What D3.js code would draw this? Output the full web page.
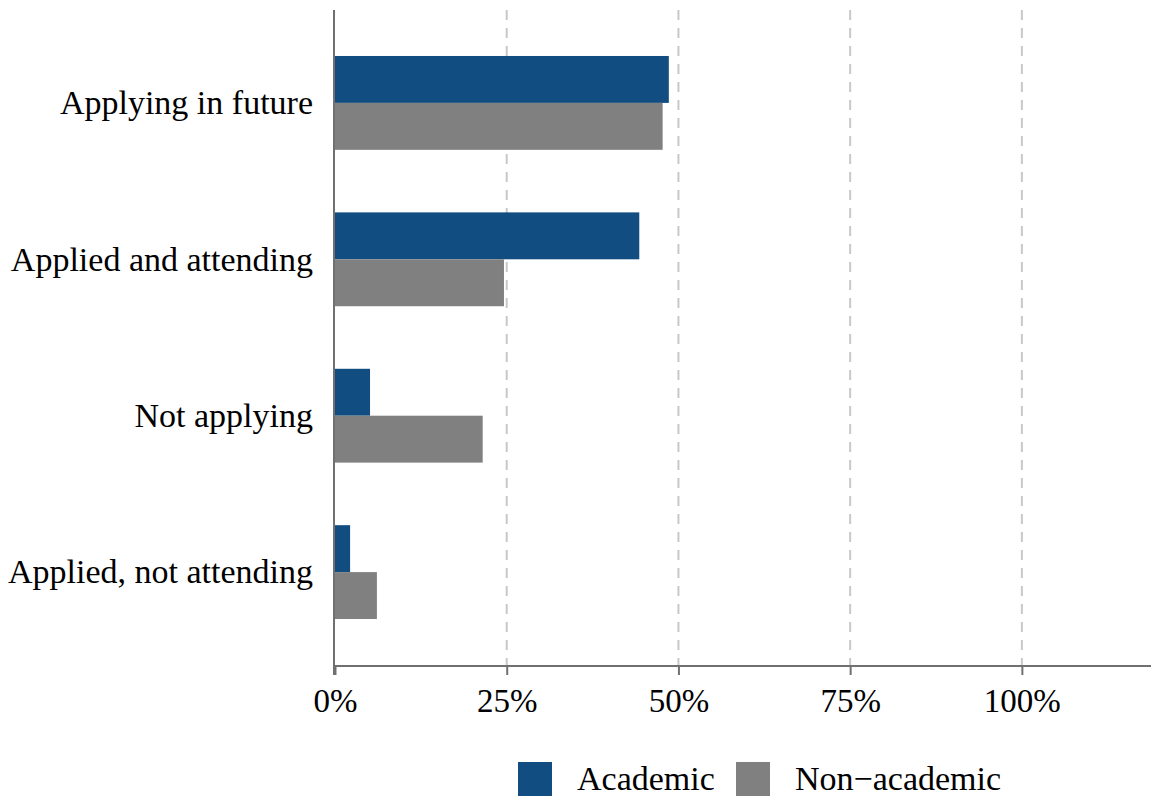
<!DOCTYPE html>
<html>
<head>
<meta charset="utf-8">
<script src="https://cdn.jsdelivr.net/npm/d3@7"></script>
<style>
  html, body { margin: 0; padding: 0; background: #fff; }
  svg { display: block; }
</style>
</head>
<body>
<script>
// data
var categories = ["Applying in future", "Applied and attending", "Not applying", "Applied, not attending"];
var seriesNames = ["Academic", "Non\u2212academic"];
var academic = [48.6, 44.3, 5.1, 2.2];
var nonAcademic = [47.7, 24.6, 21.5, 6.1];
var tickValues = [0, 25, 50, 75, 100];
var tickLabels = ["0%", "25%", "50%", "75%", "100%"];

var width = 1151, height = 797;
var colours = ["#114d80", "#808080"];
var font = "'Liberation Serif', 'Times New Roman', serif";

var svg = d3.select("body").append("svg")
  .attr("width", width).attr("height", height)
  .attr("viewBox", "0,0," + width + "," + height);

var x = d3.scaleLinear().domain([0, 118.8]).range([335, 1151]);
var y = d3.scaleBand().domain(categories).range([10, 665])
  .paddingInner(0.4).paddingOuter(0.294);
var ySub = d3.scaleBand().domain(seriesNames).range([0, y.bandwidth()]);

// gridlines
svg.selectAll("line.grid").data(tickValues.filter(d => d > 0)).enter().append("line")
  .attr("class", "grid")
  .attr("x1", d => x(d)).attr("x2", d => x(d))
  .attr("y1", 10).attr("y2", 665)
  .attr("stroke", "#c8c8c8")
  .attr("stroke-width", 2)
  .attr("stroke-dasharray", "10,8");

// bars
var rows = categories.map((c, i) => ({cat: c, vals: [academic[i], nonAcademic[i]]}));
var groups = svg.selectAll("g.row").data(rows).enter().append("g")
  .attr("class", "row")
  .attr("transform", d => "translate(0," + y(d.cat) + ")");
groups.selectAll("rect").data(d => d.vals.map((v, j) => ({v: v, s: seriesNames[j], j: j})))
  .enter().append("rect")
  .attr("x", x(0))
  .attr("y", d => ySub(d.s))
  .attr("width", d => x(d.v) - x(0))
  .attr("height", ySub.bandwidth())
  .attr("fill", d => colours[d.j]);

// x axis
var xAxis = svg.append("g")
  .attr("transform", "translate(0,666)")
  .call(d3.axisBottom(x).tickValues(tickValues).tickFormat((d, i) => tickLabels[i]).tickSize(9).tickPadding(14));
xAxis.select(".domain").remove();
xAxis.selectAll(".tick line").attr("stroke", "#707070").attr("stroke-width", 2);
xAxis.selectAll(".tick text")
  .attr("font-family", font).attr("font-size", "33px").attr("fill", "#000");
xAxis.append("line")
  .attr("x1", x(0) - 1).attr("x2", width)
  .attr("y1", 0).attr("y2", 0)
  .attr("stroke", "#707070").attr("stroke-width", 2);

// y axis line
svg.append("line")
  .attr("x1", x(0) - 1).attr("x2", x(0) - 1)
  .attr("y1", 10).attr("y2", 675)
  .attr("stroke", "#707070").attr("stroke-width", 2);

// category labels
svg.selectAll("text.cat").data(categories).enter().append("text")
  .attr("class", "cat")
  .attr("x", 313)
  .attr("y", d => y(d) + y.bandwidth() / 2)
  .attr("dy", "0.33em")
  .attr("text-anchor", "end")
  .attr("font-family", font).attr("font-size", "34px").attr("fill", "#000")
  .text(d => d);

// legend
var legendX = [518, 736];
var legend = svg.selectAll("g.legend").data(seriesNames).enter().append("g")
  .attr("class", "legend")
  .attr("transform", (d, i) => "translate(" + legendX[i] + ",762)");
legend.append("rect")
  .attr("width", 34).attr("height", 34)
  .attr("fill", (d, i) => colours[i]);
legend.append("text")
  .attr("x", 59).attr("y", 17).attr("dy", "0.33em")
  .attr("font-family", font).attr("font-size", "34px").attr("fill", "#000")
  .text(d => d);
</script>
</body>
</html>
